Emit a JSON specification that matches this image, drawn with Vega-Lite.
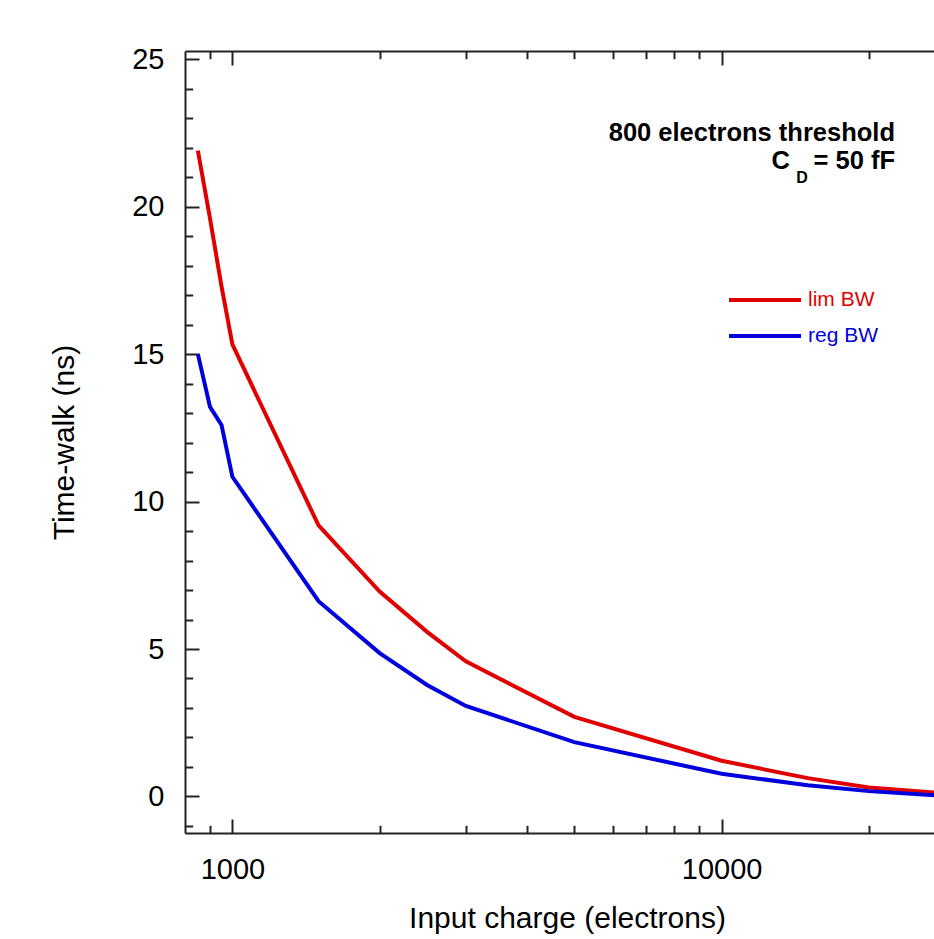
{
  "$schema": "https://vega.github.io/schema/vega-lite/v6.json",
  "width": 749,
  "height": 782,
  "autosize": {"type": "none"},
  "padding": {"left": 185, "top": 51, "right": 0, "bottom": 106},
  "background": "white",
  "config": {
    "view": {"stroke": null},
    "font": "Liberation Sans",
    "axis": {
      "grid": false,
      "domainColor": "#222222",
      "tickColor": "#222222",
      "domainWidth": 2,
      "tickWidth": 2,
      "labelColor": "#000000",
      "titleColor": "#000000",
      "labelFont": "Liberation Sans",
      "titleFont": "Liberation Sans",
      "titleFontWeight": "normal"
    }
  },
  "datasets": {
    "curves": [
      {"series": "lim BW", "charge": 850, "walk": 21.9},
      {"series": "lim BW", "charge": 900, "walk": 19.6},
      {"series": "lim BW", "charge": 950, "walk": 17.3},
      {"series": "lim BW", "charge": 1000, "walk": 15.33},
      {"series": "lim BW", "charge": 1500, "walk": 9.19},
      {"series": "lim BW", "charge": 2000, "walk": 6.95},
      {"series": "lim BW", "charge": 2500, "walk": 5.58},
      {"series": "lim BW", "charge": 3000, "walk": 4.58},
      {"series": "lim BW", "charge": 5000, "walk": 2.7},
      {"series": "lim BW", "charge": 10000, "walk": 1.21},
      {"series": "lim BW", "charge": 15000, "walk": 0.62},
      {"series": "lim BW", "charge": 20000, "walk": 0.3},
      {"series": "lim BW", "charge": 30000, "walk": 0.08},
      {"series": "reg BW", "charge": 850, "walk": 15.0},
      {"series": "reg BW", "charge": 900, "walk": 13.21},
      {"series": "reg BW", "charge": 950, "walk": 12.6},
      {"series": "reg BW", "charge": 1000, "walk": 10.84},
      {"series": "reg BW", "charge": 1500, "walk": 6.62},
      {"series": "reg BW", "charge": 2000, "walk": 4.86},
      {"series": "reg BW", "charge": 2500, "walk": 3.78},
      {"series": "reg BW", "charge": 3000, "walk": 3.07},
      {"series": "reg BW", "charge": 5000, "walk": 1.84},
      {"series": "reg BW", "charge": 10000, "walk": 0.77},
      {"series": "reg BW", "charge": 15000, "walk": 0.38},
      {"series": "reg BW", "charge": 20000, "walk": 0.18},
      {"series": "reg BW", "charge": 30000, "walk": 0.0}
    ]
  },
  "layer": [
    {
      "data": {"name": "curves"},
      "mark": {"type": "line", "strokeWidth": 4, "clip": true},
      "encoding": {
        "x": {
          "field": "charge", "type": "quantitative",
          "scale": {"type": "log", "domain": [800, 27180], "nice": false},
          "axis": {
            "orient": "bottom", "values": [1000, 10000], "format": "d",
            "tickSize": -14, "labelPadding": 36, "labelFontSize": 29, "labelFlush": false,
            "title": "Input charge (electrons)", "titleFontSize": 30, "titlePadding": 19, "titleX": 382
          }
        },
        "y": {
          "field": "walk", "type": "quantitative",
          "scale": {"domain": [-1.24, 25.28], "nice": false, "zero": false},
          "axis": {
            "orient": "left", "values": [0, 5, 10, 15, 20, 25],
            "tickSize": -14, "labelPadding": 35, "labelFontSize": 29,
            "title": "Time-walk (ns)", "titleFontSize": 30, "titlePadding": 52
          }
        },
        "color": {
          "field": "series", "type": "nominal",
          "scale": {"domain": ["lim BW", "reg BW"], "range": ["#e00000", "#0000dd"]},
          "legend": {
            "orient": "none", "legendX": 542, "legendY": 237, "title": null,
            "symbolType": "stroke", "symbolSize": 5184, "symbolStrokeWidth": 4,
            "labelFontSize": 21, "labelFont": "Liberation Sans", "labelOffset": 5,
            "clipHeight": 24, "rowPadding": 12,
            "labelColor": {"expr": "datum.label === 'lim BW' ? '#e00000' : '#0000dd'"}
          }
        }
      }
    },
    {
      "data": {"values": [{"label": "800 electrons threshold"}]},
      "mark": {"type": "text", "align": "right", "baseline": "alphabetic", "fontSize": 25.5, "fontWeight": "bold", "font": "Liberation Sans", "color": "#000000"},
      "encoding": {
        "x": {
          "datum": 22620, "type": "quantitative",
          "scale": {"type": "log", "domain": [800, 27180], "nice": false},
          "axis": {"orient": "bottom", "values": [900, 2000, 3000, 4000, 5000, 6000, 7000, 8000, 9000, 20000], "tickSize": -7.7, "labels": false, "domain": false, "title": null}
        },
        "y": {
          "datum": 22.23, "type": "quantitative",
          "scale": {"domain": [-1.24, 25.28], "nice": false, "zero": false},
          "axis": {"orient": "left", "values": [-1, 1, 2, 3, 4, 6, 7, 8, 9, 11, 12, 13, 14, 16, 17, 18, 19, 21, 22, 23, 24], "tickSize": -7.7, "labels": false, "domain": false, "title": null}
        },
        "text": {"field": "label"}
      }
    },
    {
      "data": {"values": [{"label": "= 50 fF"}]},
      "mark": {"type": "text", "align": "right", "baseline": "alphabetic", "fontSize": 25.5, "fontWeight": "bold", "font": "Liberation Sans", "color": "#000000"},
      "encoding": {
        "x": {
          "datum": 22620, "type": "quantitative",
          "scale": {"type": "log", "domain": [800, 27180], "nice": false},
          "axis": {"orient": "top", "values": [1000, 10000], "tickSize": -14, "labels": false, "domain": true, "title": null}
        },
        "y": {
          "datum": 21.27, "type": "quantitative",
          "scale": {"domain": [-1.24, 25.28], "nice": false, "zero": false},
          "axis": null
        },
        "text": {"field": "label"}
      }
    },
    {
      "data": {"values": [{"label": "C"}]},
      "mark": {"type": "text", "align": "right", "baseline": "alphabetic", "fontSize": 25.5, "fontWeight": "bold", "font": "Liberation Sans", "color": "#000000"},
      "encoding": {
        "x": {
          "datum": 13800, "type": "quantitative",
          "scale": {"type": "log", "domain": [800, 27180], "nice": false},
          "axis": {"orient": "top", "values": [900, 2000, 3000, 4000, 5000, 6000, 7000, 8000, 9000, 20000], "tickSize": -7.7, "labels": false, "domain": false, "title": null}
        },
        "y": {
          "datum": 21.27, "type": "quantitative",
          "scale": {"domain": [-1.24, 25.28], "nice": false, "zero": false},
          "axis": null
        },
        "text": {"field": "label"}
      }
    },
    {
      "data": {"values": [{"label": "D"}]},
      "mark": {"type": "text", "align": "right", "baseline": "alphabetic", "fontSize": 16, "fontWeight": "bold", "font": "Liberation Sans", "color": "#000000"},
      "encoding": {
        "x": {
          "datum": 15000, "type": "quantitative",
          "scale": {"type": "log", "domain": [800, 27180], "nice": false},
          "axis": null
        },
        "y": {
          "datum": 20.8, "type": "quantitative",
          "scale": {"domain": [-1.24, 25.28], "nice": false, "zero": false},
          "axis": null
        },
        "text": {"field": "label"}
      }
    }
  ],
  "resolve": {"axis": {"x": "independent", "y": "independent"}}
}
